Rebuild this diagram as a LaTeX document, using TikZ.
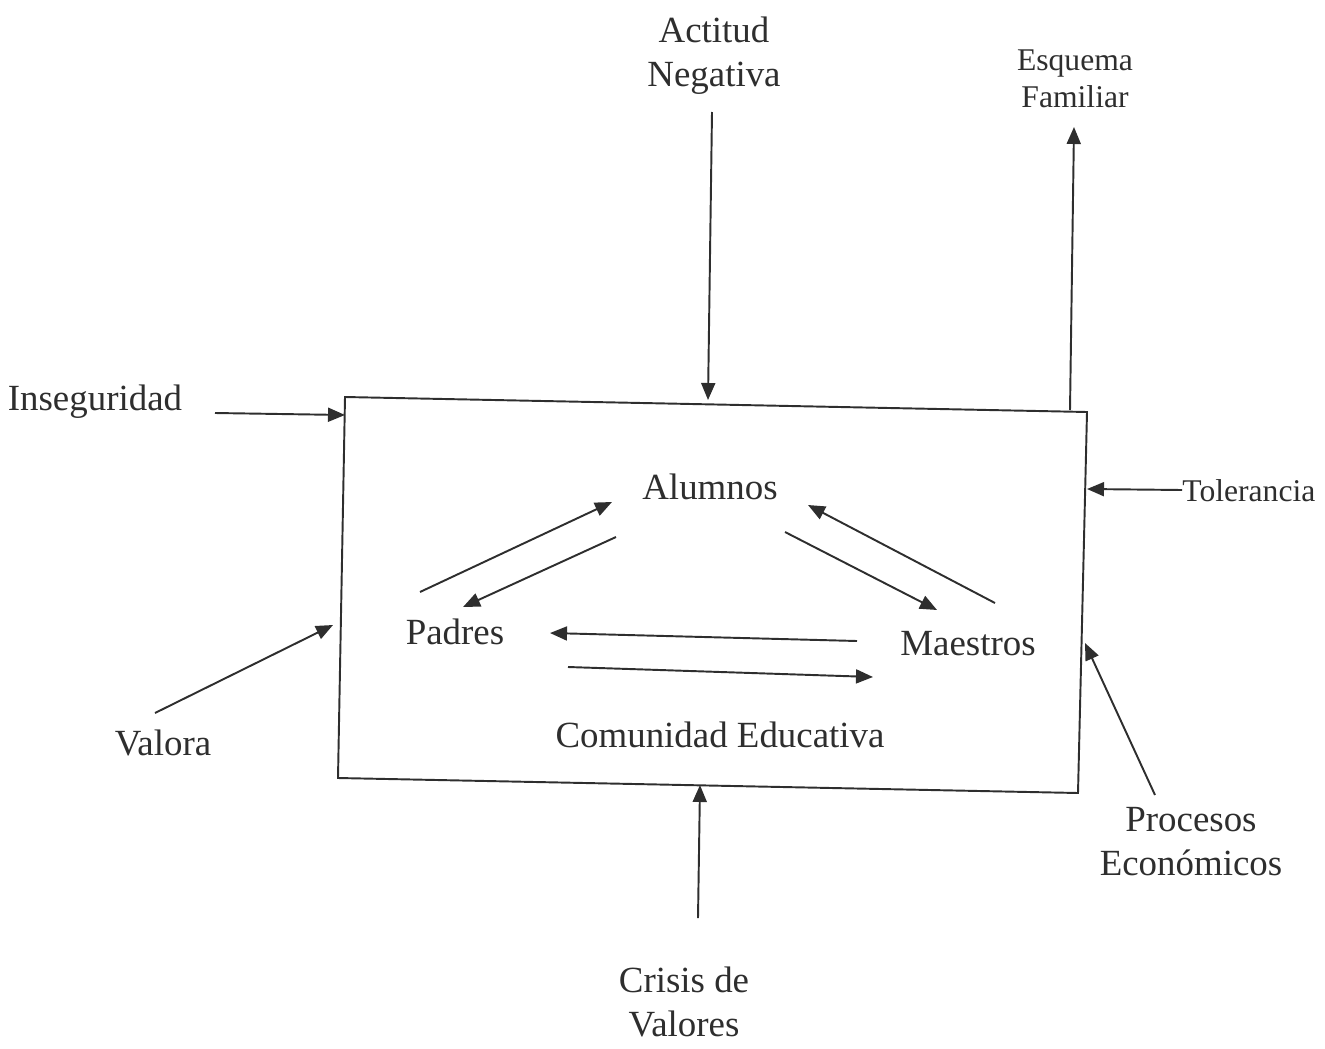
\documentclass[tikz,border=0pt]{standalone}
\usepackage{fontspec}
\setmainfont{Liberation Serif}
\usetikzlibrary{arrows.meta}
\definecolor{ink}{HTML}{2E2E2E}
\begin{document}
\begin{tikzpicture}[x=0.02cm,y=-0.02cm,
  lbl/.style={inner sep=0pt,text=ink,font=\fontsize{21}{25}\selectfont,align=center},
  slbl/.style={inner sep=0pt,text=ink,font=\fontsize{18}{21}\selectfont,align=center},
  conn/.style={draw=ink,line width=1.1pt,-{Triangle[length=0.34cm,width=0.28cm]}},
  frame/.style={draw=ink,line width=1.1pt}]
\useasboundingbox (0,0) rectangle (1325,1048);
% box
\coordinate (tl) at (345,397);
\coordinate (tr) at (1087,412);
\coordinate (br) at (1078,793);
\coordinate (bl) at (338,778);
\draw[frame] (tl) -- (tr) -- (br) -- (bl) -- cycle;
% outer labels
\node[lbl] (inseg) at (95,402) {Inseguridad};
\node[lbl] (actitud) at (714,56) {Actitud\\Negativa};
\node[slbl] (esquema) at (1075,79) {Esquema\\Familiar};
\node[slbl,anchor=west] (toler) at (1182,491) {Tolerancia};
\node[lbl] (valora) at (163,743) {Valora};
\node[lbl] (procesos) at (1191,842) {Procesos\\Económicos};
\node[lbl] (crisis) at (684,1002) {Crisis de\\Valores};
% inner labels
\node[lbl] (alumnos) at (710,487) {Alumnos};
\node[lbl] (padres) at (455,632) {Padres};
\node[lbl] (maestros) at (968,644) {Maestros};
\node[lbl] (comunidad) at (720,735) {Comunidad Educativa};
% outer arrow ends
\coordinate (a1) at (215,413); \coordinate (b1) at (345,415);
\coordinate (a2) at (712,112); \coordinate (b2) at (708,400);
\coordinate (a3) at (1070,410); \coordinate (b3) at (1074,127);
\coordinate (a4) at (1182,490); \coordinate (b4) at (1087,489);
\coordinate (a5) at (155,713); \coordinate (b5) at (333,625);
\coordinate (a6) at (1155,795); \coordinate (b6) at (1085,643);
\coordinate (a7) at (698,918); \coordinate (b7) at (700,785);
\draw[conn] (a1) -- (b1);
\draw[conn] (a2) -- (b2);
\draw[conn] (a3) -- (b3);
\draw[conn] (a4) -- (b4);
\draw[conn] (a5) -- (b5);
\draw[conn] (a6) -- (b6);
\draw[conn] (a7) -- (b7);
% inner arrow ends
\coordinate (pa1) at (420,592); \coordinate (pa2) at (612,502);
\coordinate (ap1) at (616,537); \coordinate (ap2) at (463,607);
\coordinate (am1) at (785,532); \coordinate (am2) at (937,610);
\coordinate (ma1) at (995,603); \coordinate (ma2) at (808,505);
\coordinate (mp1) at (857,641); \coordinate (mp2) at (550,633);
\coordinate (pm1) at (568,667); \coordinate (pm2) at (873,677);
\draw[conn] (pa1) -- (pa2);
\draw[conn] (ap1) -- (ap2);
\draw[conn] (am1) -- (am2);
\draw[conn] (ma1) -- (ma2);
\draw[conn] (mp1) -- (mp2);
\draw[conn] (pm1) -- (pm2);
\end{tikzpicture}
\end{document}
